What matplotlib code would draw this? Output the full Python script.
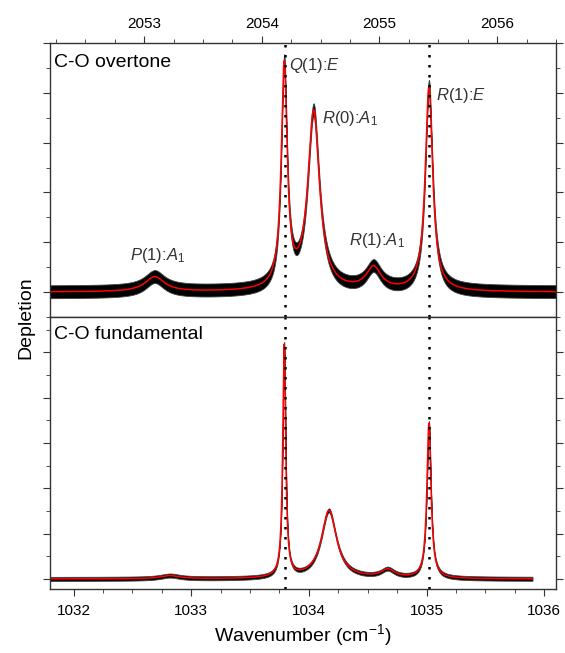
import matplotlib
matplotlib.use('Agg')
import matplotlib.pyplot as plt
import numpy as np
from matplotlib.ticker import MultipleLocator

plt.rcParams['font.family'] = ['Liberation Sans', 'DejaVu Sans']
plt.rcParams['mathtext.fontset'] = 'custom'
plt.rcParams['mathtext.rm'] = 'Liberation Sans'
plt.rcParams['mathtext.it'] = 'Liberation Sans:italic'

# peaks: centre, height, half width (cm-1)
etiquetas = [r'$P$(1):$A_1$', r'$Q$(1):$E$', r'$R$(0):$A_1$', r'$R$(1):$A_1$', r'$R$(1):$E$']
sobre_pos = [2053.09, 2054.19, 2054.44, 2054.95, 2055.42]
sobre_alto = [0.30, 4.44, 3.58, 0.45, 4.10]
sobre_ancho = [0.10, 0.030, 0.060, 0.077, 0.038]

fund_pos = [1032.82, 1033.79, 1034.17, 1034.67, 1035.02]
fund_alto = [0.07, 5.12, 1.50, 0.18, 3.42]
fund_ancho = [0.10, 0.015, 0.078, 0.07, 0.021]

# label positions (overtone panel)
etiq_x = [2052.88, 2054.23, 2054.51, 2054.74, 2055.48]
etiq_y = [0.74, 4.54, 3.48, 1.04, 3.94]

# dotted guides, fundamental axis; the top axis is shifted by this
guias = [1033.80, 1035.02]
desfase = 1020.40

# noise half-band of the measured trace
ruido_sobre = 0.13
ruido_fund = 0.045

xlim_fund = (1031.80, 1036.10)
fin_fund = 1035.90


def lorentz(x, pos, alto, ancho):
    y = np.zeros_like(x)
    for p, a, w in zip(pos, alto, ancho):
        y += a / (1 + ((x - p) / w) ** 2)
    return y


fig = plt.figure(figsize=(5.65, 6.53), dpi=100)
ax1 = fig.add_axes([0.0885, 0.5145, 0.8956, 0.4196])
ax2 = fig.add_axes([0.0885, 0.0980, 0.8956, 0.4165])

# overtone
x1 = np.linspace(xlim_fund[0] + desfase, xlim_fund[1] + desfase, 6000)
y1 = lorentz(x1, sobre_pos, sobre_alto, sobre_ancho)
ax1.fill_between(x1, y1 - ruido_sobre, y1 + ruido_sobre, color='black', lw=0.6, edgecolor='#444444')
ax1.plot(x1, y1, color='red', lw=1.1)
for g in guias:
    ax1.axvline(g + desfase, color='black', lw=1.8, ls=(0, (1, 3)))
for t, tx, ty in zip(etiquetas, etiq_x, etiq_y):
    ax1.text(tx, ty, t, fontsize=12, va='center', ha='left', color='#333333')
ax1.text(0.008, 0.93, 'C-O overtone', transform=ax1.transAxes, fontsize=14, va='center')
ax1.set_xlim(xlim_fund[0] + desfase, xlim_fund[1] + desfase)
ax1.set_ylim(-0.5, 5.0)
ax1.xaxis.set_major_locator(MultipleLocator(1))
ax1.xaxis.set_minor_locator(MultipleLocator(0.25))
ax1.xaxis.tick_top()
ax1.tick_params(axis='x', which='both', top=True, bottom=False, labelsize=11)

# fundamental
x2 = np.linspace(xlim_fund[0], fin_fund, 6000)
y2 = lorentz(x2, fund_pos, fund_alto, fund_ancho)
ax2.fill_between(x2, y2 - ruido_fund, y2 + ruido_fund, color='black', lw=0.6, edgecolor='#444444')
ax2.plot(x2, y2, color='red', lw=1.1)
for g in guias:
    ax2.axvline(g, color='black', lw=1.8, ls=(0, (1, 3)))
ax2.text(0.008, 0.934, 'C-O fundamental', transform=ax2.transAxes, fontsize=14, va='center')
ax2.set_xlim(*xlim_fund)
ax2.set_ylim(-0.22, 5.78)
ax2.xaxis.set_major_locator(MultipleLocator(1))
ax2.xaxis.set_minor_locator(MultipleLocator(0.25))
ax2.tick_params(axis='x', which='both', top=False, bottom=True, labelsize=11, pad=6)
ax2.set_xlabel('Wavenumber (cm$^{-1}$)', fontsize=14, labelpad=3)

for ax in (ax1, ax2):
    ax.yaxis.set_major_locator(MultipleLocator(1))
    ax.yaxis.set_minor_locator(MultipleLocator(0.5))
    ax.tick_params(axis='y', which='both', left=True, right=True, labelleft=False)
    ax.tick_params(which='major', length=5, direction='out', color='#333333')
    ax.tick_params(which='minor', length=3, direction='out', color='#333333')
    for s in ax.spines.values():
        s.set_color('#333333')
        s.set_linewidth(1.0)

fig.text(0.045, 0.514, 'Depletion', rotation=90, fontsize=14, va='center', ha='center')

fig.savefig('out.png', dpi=100)
